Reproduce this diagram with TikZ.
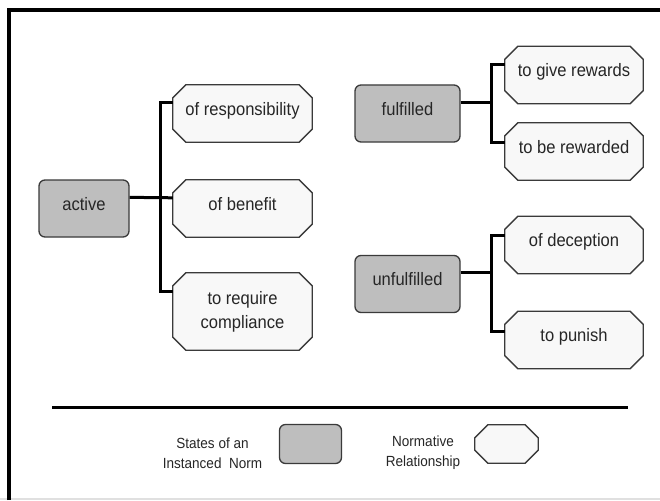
\documentclass[tikz,border=0pt]{standalone}
\usepackage{fontspec}
\setmainfont[FakeStretch=0.92]{Liberation Sans}
\usetikzlibrary{calc}
\pgfdeclarelayer{background}
\pgfsetlayers{background,main}

\definecolor{stategray}{HTML}{BEBEBE}
\definecolor{relfill}{HTML}{F8F8F8}
\definecolor{boxline}{HTML}{3A3A3A}
\definecolor{labelink}{HTML}{262626}

\newcommand\labelfont{\fontsize{18}{24}\selectfont}
\newcommand\legendfont{\fontsize{14.7}{20}\selectfont}
\newcommand\chamf{13}

\begin{document}
\begin{tikzpicture}[x=1pt,y=-1pt,
  statebox/.style={draw=boxline, line width=1.3pt, fill=stategray,
    rounded corners=6pt, minimum height=57pt, inner sep=0pt,
    font=\labelfont, text=labelink, text height=13pt, text depth=10pt},
  relbox/.style={minimum width=139pt, minimum height=57pt, inner sep=0pt,
    align=center, font=\labelfont, text=labelink,
    text height=13pt, text depth=10pt},
  reltall/.style={minimum width=139pt, minimum height=77pt, inner sep=0pt,
    align=center, font=\labelfont, text=labelink},
  reloutline/.style={draw=boxline, line width=1.3pt, fill=relfill, line join=miter},
  conn/.style={line width=3pt, black, line join=miter},
  separator/.style={line width=3pt, black},
  frameline/.style={line width=4pt, black, line join=miter},
  legendtext/.style={align=center, font=\legendfont, text=labelink, inner sep=0pt}
]
\useasboundingbox (0,0) rectangle (660,500);

% outer frame: heavy left and top edges, faint bottom edge
\coordinate (frameBL) at (9,500);
\coordinate (frameTL) at (9,10);
\coordinate (frameTR) at (660,10);
\coordinate (baseL) at (0,499);
\coordinate (baseR) at (660,499);
\draw[black!12, line width=1.5pt] (baseL) -- (baseR);
\draw[frameline] (frameBL) -- (frameTL) -- (frameTR);

% states
\node[statebox, minimum width=90pt]  (active) at (84,208.5)  {active};
\node[statebox, minimum width=105pt] (ful)    at (407.5,113.5) {fulfilled};
\node[statebox, minimum width=105pt] (unful)  at (407.5,284)   {unfulfilled};

% normative relationships
\node[relbox]  (resp) at (242.5,113.5) {of responsibility};
\node[relbox]  (ben)  at (242.5,208.5) {of benefit};
\node[reltall] (req)  at (242.5,311.5) {to require\\compliance};
\node[relbox, minimum width=138pt] (give) at (574,75)    {to give rewards};
\node[relbox, minimum width=138pt] (rew)  at (574,151.5) {to be rewarded};
\node[relbox, minimum width=138pt] (dec)  at (574,245)   {of deception};
\node[relbox, minimum width=138pt] (pun)  at (574,340)   {to punish};

% legend
\node[legendtext] (legstatetxt) at (212.5,453) {States of an\\Instanced~ Norm};
\node[statebox, minimum width=62pt, minimum height=39pt] (legstate) at (310.5,444) {};
\node[legendtext] (legreltxt) at (423,453) {Normative\\Relationship};
\node[relbox, minimum width=63pt, minimum height=38pt] (legrel) at (506.5,444) {};

% white page and octagonal outlines behind the relationship labels
\begin{pgfonlayer}{background}
\fill[white] (0,0) rectangle (660,500);
\foreach \n in {resp,ben,req,give,rew,dec,pun,legrel}{
  \filldraw[reloutline]
    ($(\n.north west)+(0,\chamf)$) -- ($(\n.north west)+(\chamf,0)$) --
    ($(\n.north east)+(-\chamf,0)$) -- ($(\n.north east)+(0,\chamf)$) --
    ($(\n.south east)+(0,-\chamf)$) -- ($(\n.south east)+(-\chamf,0)$) --
    ($(\n.south west)+(\chamf,0)$) -- ($(\n.south west)+(0,-\chamf)$) -- cycle;
}
\end{pgfonlayer}

% connectors
\coordinate (busA) at (160,200);
\coordinate (busB) at (491,100);
\coordinate (busC) at (491,280);

\draw[conn] ([yshift=-18pt]active.north east) -- ([yshift=-18pt]ben.north west);
\draw[conn] ([yshift=-18pt]resp.north west) -| (busA) |- ([yshift=-19pt]req.north west);

\coordinate (fulport) at ([yshift=-18pt]ful.north east);
\draw[conn] ([yshift=-18pt]give.north west) -| (busB) |- ([yshift=-20pt]rew.north west);
\draw[conn] (fulport) -- (busB |- fulport);

\coordinate (unfulport) at ([yshift=-18pt]unful.north east);
\draw[conn] ([yshift=-19pt]dec.north west) -| (busC) |- ([yshift=-20pt]pun.north west);
\draw[conn] (unfulport) -- (busC |- unfulport);

% separator above the legend
\coordinate (sepL) at (52,407);
\coordinate (sepR) at (628,407);
\draw[separator] (sepL) -- (sepR);
\end{tikzpicture}
\end{document}
